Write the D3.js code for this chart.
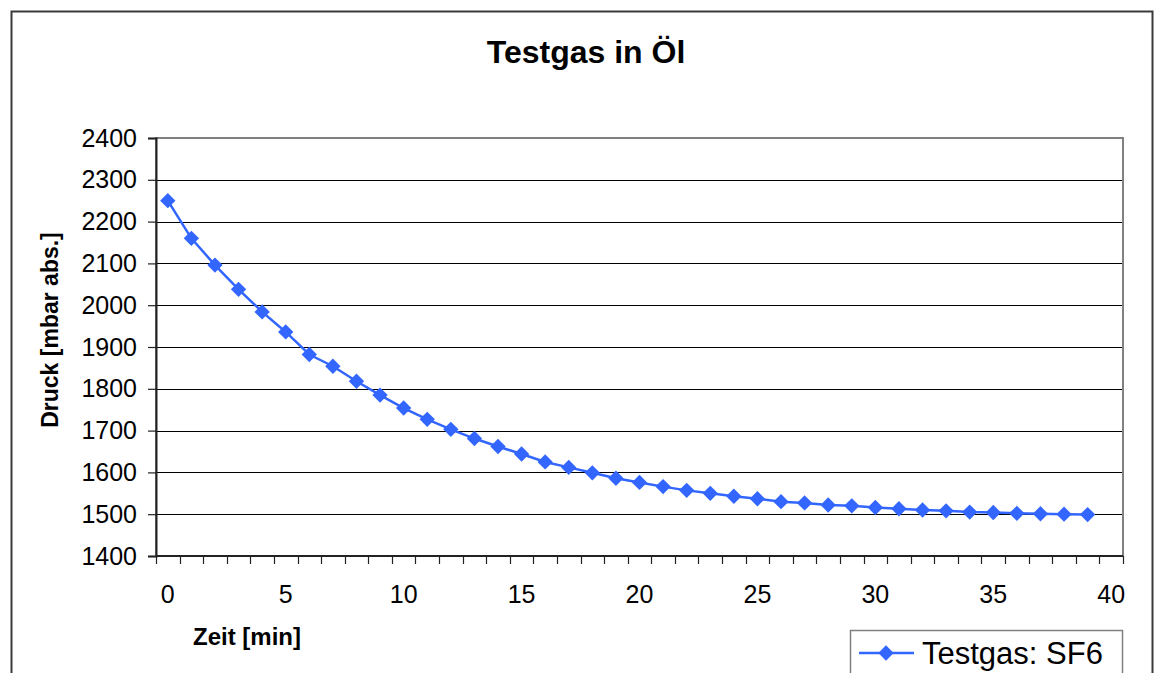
<!DOCTYPE html>
<html lang="de">
<head>
    <meta charset="UTF-8">
    <title>Testgas in Öl</title>
    <style>
        body {
            margin: 0;
            padding: 0;
            background-color: #ffffff;
        }
        svg {
            display: block;
            font-family: "Liberation Sans", Arial, sans-serif;
        }
        .grid line {
            stroke: #000000;
            stroke-width: 1;
        }
    </style>
</head>
<body>
    <svg id="chart"></svg>

    <script src="https://d3js.org/d3.v7.min.js"></script>
    <script>
        // categories on the x axis (minutes), the last one has no measurement
        var minutes = [0, 1, 2, 3, 4, 5, 6, 7, 8, 9, 10, 11, 12, 13, 14, 15, 16, 17, 18, 19,
                       20, 21, 22, 23, 24, 25, 26, 27, 28, 29, 30, 31, 32, 33, 34, 35, 36, 37, 38, 39, 40];

        // pressure readings, mbar abs. (one per minute 0..39)
        var pressure = [2250, 2160, 2096, 2038, 1984, 1936, 1882, 1854, 1818, 1785,
                        1754, 1727, 1703, 1681, 1662, 1644, 1625, 1612, 1599, 1586,
                        1576, 1566, 1557, 1550, 1543, 1537, 1530, 1527, 1522, 1520,
                        1516, 1513, 1510, 1508, 1505, 1504, 1502, 1501, 1500, 1499];

        var yTicks = [1400, 1500, 1600, 1700, 1800, 1900, 2000, 2100, 2200, 2300, 2400];
        var xLabels = [0, 5, 10, 15, 20, 25, 30, 35, 40];
        var seriesName = 'Testgas: SF6';

        var W = 1161, H = 673;
        var plot = { left: 156, right: 1123, top: 138, bottom: 556 };
        var blue = '#3366ff';

        var svg = d3.select('#chart')
            .attr('width', W)
            .attr('height', H);

        // outer chart frame (runs off the bottom of the picture)
        svg.append('rect')
            .attr('x', 11.5)
            .attr('y', 11.5)
            .attr('width', 1141)
            .attr('height', 700)
            .attr('fill', 'none')
            .attr('stroke', '#3a3a3a')
            .attr('stroke-width', 2);

        // title
        svg.append('text')
            .attr('x', 586)
            .attr('y', 63)
            .attr('text-anchor', 'middle')
            .style('font-size', '32px')
            .style('font-weight', 'bold')
            .text('Testgas in Öl');

        // scales
        var x = d3.scaleBand()
            .domain(minutes)
            .range([plot.left, plot.right])
            .paddingInner(0)
            .paddingOuter(0);

        var y = d3.scaleLinear()
            .domain([1400, 2400])
            .range([plot.bottom, plot.top]);

        // horizontal gridlines
        svg.append('g')
            .attr('class', 'grid')
            .selectAll('line')
            .data(yTicks.slice(1, -1))
            .enter()
            .append('line')
            .attr('x1', plot.left)
            .attr('x2', plot.right)
            .attr('y1', d => Math.round(y(d)) + 0.5)
            .attr('y2', d => Math.round(y(d)) + 0.5);

        // plot area border
        svg.append('rect')
            .attr('x', plot.left)
            .attr('y', plot.top)
            .attr('width', plot.right - plot.left)
            .attr('height', plot.bottom - plot.top)
            .attr('fill', 'none')
            .attr('stroke', '#808080')
            .attr('stroke-width', 2);

        // y axis
        var yAxis = svg.append('g')
            .attr('transform', 'translate(' + plot.left + ',0)')
            .call(d3.axisLeft(y).tickValues(yTicks).tickFormat(d3.format('d')).tickSize(8).tickPadding(11));
        yAxis.select('.domain').attr('stroke', '#222').attr('stroke-width', 2);
        yAxis.selectAll('.tick line').attr('stroke', '#222').attr('stroke-width', 1.2);
        yAxis.selectAll('.tick text')
            .style('font-size', '25px')
            .style('font-family', '"Liberation Sans", Arial, sans-serif')
            .attr('fill', '#000');

        // x axis: line + tick marks between categories
        var xg = svg.append('g');
        xg.append('line')
            .attr('x1', plot.left)
            .attr('x2', plot.right)
            .attr('y1', plot.bottom)
            .attr('y2', plot.bottom)
            .attr('stroke', '#222')
            .attr('stroke-width', 2);

        var boundaries = minutes.map(m => x(m)).concat([x(minutes[minutes.length - 1]) + x.bandwidth()]);
        xg.selectAll('.xtick')
            .data(boundaries)
            .enter()
            .append('line')
            .attr('class', 'xtick')
            .attr('x1', d => Math.round(d) + 0.5)
            .attr('x2', d => Math.round(d) + 0.5)
            .attr('y1', plot.bottom)
            .attr('y2', plot.bottom + 8)
            .attr('stroke', '#222')
            .attr('stroke-width', 1.2);

        xg.selectAll('.xlabel')
            .data(xLabels)
            .enter()
            .append('text')
            .attr('class', 'xlabel')
            .attr('x', d => x(d) + x.bandwidth() / 2)
            .attr('y', 603)
            .attr('text-anchor', 'middle')
            .style('font-size', '25px')
            .text(d => d);

        // axis titles
        svg.append('text')
            .attr('x', 247)
            .attr('y', 645)
            .attr('text-anchor', 'middle')
            .style('font-size', '24px')
            .style('font-weight', 'bold')
            .text('Zeit [min]');

        svg.append('text')
            .attr('transform', 'translate(58,330) rotate(-90)')
            .attr('text-anchor', 'middle')
            .style('font-size', '23px')
            .style('font-weight', 'bold')
            .text('Druck [mbar abs.]');

        // series
        var points = pressure.map((v, i) => ({ m: minutes[i], v: v }));
        var line = d3.line()
            .x(d => x(d.m) + x.bandwidth() / 2)
            .y(d => y(d.v));

        svg.append('path')
            .datum(points)
            .attr('d', line)
            .attr('fill', 'none')
            .attr('stroke', blue)
            .attr('stroke-width', 2.5);

        var diamond = d3.symbol().type(d3.symbolDiamond2).size(150);
        svg.selectAll('.marker')
            .data(points)
            .enter()
            .append('path')
            .attr('class', 'marker')
            .attr('d', diamond)
            .attr('transform', d => 'translate(' + (x(d.m) + x.bandwidth() / 2) + ',' + y(d.v) + ')')
            .attr('fill', blue);

        // legend (cut off by the bottom edge)
        var legend = svg.append('g');
        legend.append('rect')
            .attr('x', 850.5)
            .attr('y', 630.5)
            .attr('width', 272)
            .attr('height', 80)
            .attr('fill', '#fff')
            .attr('stroke', '#808080')
            .attr('stroke-width', 1.5);
        legend.append('line')
            .attr('x1', 859)
            .attr('x2', 914)
            .attr('y1', 653)
            .attr('y2', 653)
            .attr('stroke', blue)
            .attr('stroke-width', 2.5);
        legend.append('path')
            .attr('d', diamond)
            .attr('transform', 'translate(886,653)')
            .attr('fill', blue);
        legend.append('text')
            .attr('x', 922)
            .attr('y', 664)
            .style('font-size', '31px')
            .text(seriesName);
    </script>
</body>
</html>
